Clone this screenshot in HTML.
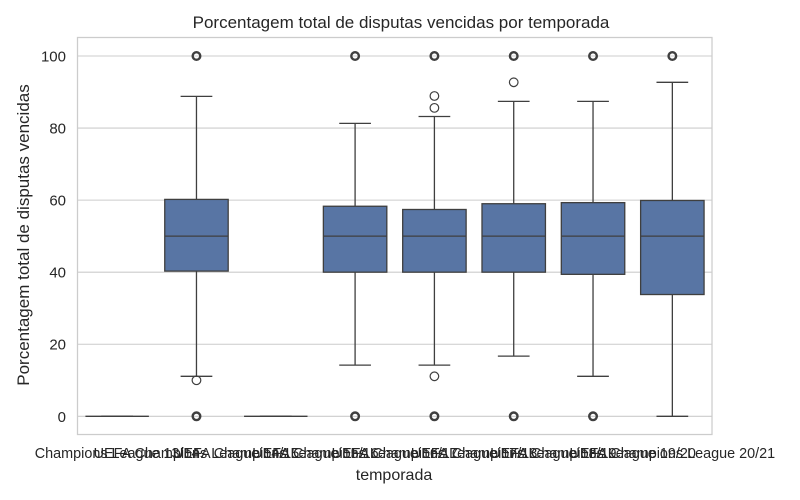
<!DOCTYPE html>
<html><head><meta charset="utf-8"><style>
html,body{margin:0;padding:0;background:#fff;}
svg{display:block;font-family:"Liberation Sans",Arial,sans-serif;}
</style></head><body>
<svg id="chart" width="800" height="500" viewBox="0 0 800 500">
<rect x="0" y="0" width="800" height="500" fill="#fff"/>
<g id="grid"></g>
<g id="boxes"></g>
<rect x="77.5" y="37.5" width="634.5" height="397" fill="none" stroke="#cccccc" stroke-width="1.25"/>
<g id="yticks"></g>
<g id="xticks"></g>
<text x="401" y="28" text-anchor="middle" font-size="17" fill="#262626">Porcentagem total de disputas vencidas por temporada</text>
<text x="394" y="480" text-anchor="middle" font-size="16" fill="#262626">temporada</text>
<text transform="translate(29,235) rotate(-90)" text-anchor="middle" font-size="17" fill="#262626">Porcentagem total de disputas vencidas</text>
</svg>
<script>
const categories = ["Champions League 13/14","UEFA Champions League 14/15","UEFA Champions League 15/16","UEFA Champions League 16/17","UEFA Champions League 17/18","UEFA Champions League 18/19","UEFA Champions League 19/20","UEFA Champions League 20/21"];
const q1 = [0, 40.3, 0, 40, 40, 40, 39.4, 33.8];
const medians = [0, 50, 0, 50, 50, 50, 50, 50];
const q3 = [0, 60.2, 0, 58.3, 57.4, 59, 59.3, 59.9];
const whiskerLow = [0, 11.1, 0, 14.2, 14.2, 16.7, 11.1, 0];
const whiskerHigh = [0, 88.8, 0, 81.3, 83.2, 87.4, 87.4, 92.7];
const outliers = [[], [100, 10, 0], [], [100, 0], [100, 88.9, 85.6, 11.1, 0], [100, 92.7, 0], [100, 0], [100]];
const yTicks = [0, 20, 40, 60, 80, 100];

const NS = "http://www.w3.org/2000/svg";
const plotL = 77.5, plotR = 712, n = categories.length;
const step = (plotR - plotL) / n;
function xPos(i){ return plotL + step * (i + 0.5); }
function yPos(v){ return 416.3 - v * 3.603; }
function mk(tag, attrs, parent){ const e = document.createElementNS(NS, tag); for (const k in attrs) e.setAttribute(k, attrs[k]); parent.appendChild(e); return e; }

const grid = document.getElementById('grid');
const yt = document.getElementById('yticks');
yTicks.forEach(t => {
  const l = mk('line', {x1: plotL, x2: plotR, y1: yPos(t), y2: yPos(t), stroke: '#cccccc', 'stroke-width': 1.1}, grid);
  
  
  const tx = mk('text', {x: 66, y: yPos(t) + 5.5, 'text-anchor': 'end', 'font-size': 15, fill: '#262626'}, yt);
  tx.textContent = t;
  
  
});

const xt = document.getElementById('xticks');
categories.forEach((c, i) => {
  const tx = mk('text', {x: xPos(i), y: 458, 'text-anchor': 'middle', 'font-size': 14.4, fill: '#262626'}, xt);
  tx.textContent = c;
  
  
});

const boxes = document.getElementById('boxes');
const col = '#3f3f3f', bw = step * 0.8, cap = bw / 2;
categories.forEach((c, i) => {
  const g = mk('g', {}, boxes);
  
  
  const x = xPos(i);
  mk('line', {x1: x, x2: x, y1: yPos(q3[i]), y2: yPos(whiskerHigh[i]), stroke: col, 'stroke-width': 1.3}, g);
  mk('line', {x1: x, x2: x, y1: yPos(q1[i]), y2: yPos(whiskerLow[i]), stroke: col, 'stroke-width': 1.3}, g);
  mk('line', {x1: x - cap/2, x2: x + cap/2, y1: yPos(whiskerHigh[i]), y2: yPos(whiskerHigh[i]), stroke: col, 'stroke-width': 1.3}, g);
  mk('line', {x1: x - cap/2, x2: x + cap/2, y1: yPos(whiskerLow[i]), y2: yPos(whiskerLow[i]), stroke: col, 'stroke-width': 1.3}, g);
  const r = mk('rect', {x: x - bw/2, y: yPos(q3[i]), width: bw, height: Math.max(0, yPos(q1[i]) - yPos(q3[i])), fill: '#5875a4', stroke: col, 'stroke-width': 1.3}, g);
  
  
  mk('line', {x1: x - bw/2, x2: x + bw/2, y1: yPos(medians[i]), y2: yPos(medians[i]), stroke: col, 'stroke-width': 1.3}, g);
  outliers[i].forEach(v => {
    const heavy = (v === 100 || v === 0);
    const o = mk('circle', {cx: x, cy: yPos(v), r: heavy ? 3.8 : 4.3, fill: 'none', stroke: col, 'stroke-width': heavy ? 2.4 : 1.2}, g);
    
    
  });
});
</script>
</body></html>
